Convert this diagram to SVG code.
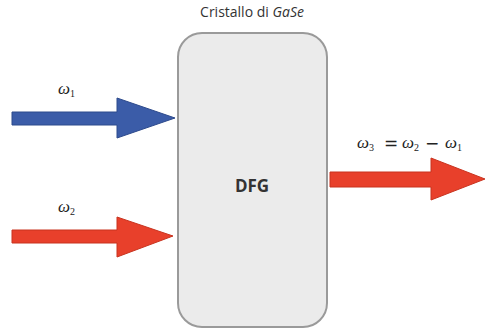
<svg xmlns="http://www.w3.org/2000/svg" width="485" height="334" viewBox="0 0 485 334">
<style>
.t{font-family:"Open Sans","Liberation Sans",sans-serif;fill:#333}
.m{font-family:"Liberation Serif","DejaVu Serif",serif;font-style:italic;fill:#222;font-size:17px}
.s{font-style:normal;font-size:10px}
.o{font-family:"DejaVu Sans","Liberation Sans",sans-serif;fill:#222;font-size:17px}
.blue{fill:#3b5ca8;stroke:#2d4a8c;stroke-width:1}
.red{fill:#e8402b;stroke:#c8331f;stroke-width:1}
</style>
<rect width="485" height="334" fill="#ffffff"/>
<g id="crystal">
<rect x="178" y="33" width="149" height="294" rx="24" ry="24" fill="#ebebeb" stroke="#9a9a9a" stroke-width="2"/>
<text class="t" x="252" y="192" font-size="17" font-weight="bold" text-anchor="middle" fill="#222">DFG</text>
<text class="t" x="252" y="17" font-size="14" text-anchor="middle">Cristallo di <tspan font-style="italic">GaSe</tspan></text>
</g>
<g id="connectors">
<g id="in1">
<polygon class="blue" points="12,112 117,112 117,98 175,118 117,138 117,125 12,125"/>
<text class="m" x="58" y="94">ω<tspan class="s" dy="3">1</tspan></text>
</g>
<g id="in2">
<polygon class="red" points="12,230 117,230 117,217 173,236 117,257 117,243 12,243"/>
<text class="m" x="58" y="212">ω<tspan class="s" dy="3">2</tspan></text>
</g>
<g id="out">
<text class="m" x="357" y="148">ω<tspan class="s" dy="3">3</tspan></text>
<text class="o" x="384" y="149">=</text>
<text class="m" x="402" y="148">ω<tspan class="s" dy="3">2</tspan></text>
<text class="o" x="425" y="149">−</text>
<text class="m" x="445" y="148">ω<tspan class="s" dy="3">1</tspan></text>
<polygon class="red" points="330,172 431,172 431,158 485,179 431,200 431,187 330,187"/>
</g>
</g>
</svg>
